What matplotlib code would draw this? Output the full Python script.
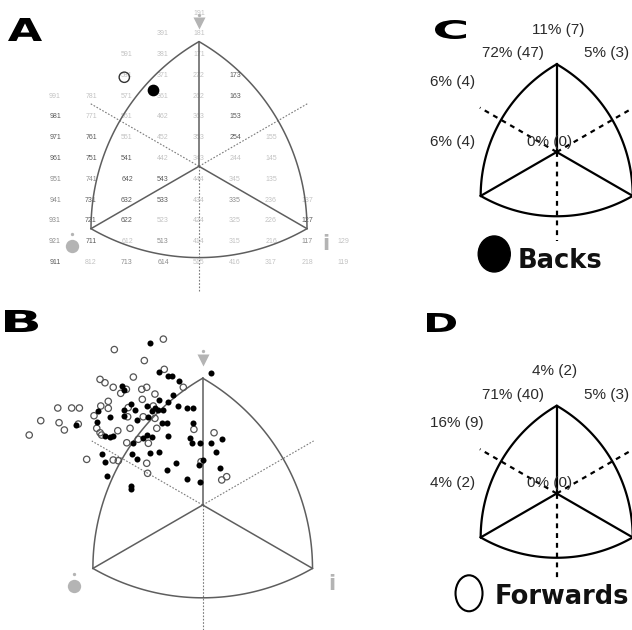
"""Somatocharts: A grid of somatotypes, B individual players, C/D sector shares."""

import numpy as np
import matplotlib

matplotlib.use("Agg")
import matplotlib.pyplot as plt  # noqa: E402
from matplotlib.patches import Ellipse, PathPatch  # noqa: E402
from matplotlib.textpath import TextPath  # noqa: E402
from matplotlib.font_manager import FontProperties  # noqa: E402
from matplotlib.transforms import Affine2D  # noqa: E402

W, H = 632, 630
R3 = np.sqrt(3)

# --- data ---------------------------------------------------------------
# somatotype labels of panel A, one list per row (endo-meso-ecto digits)
GRID_ROWS = [
    ["191"],
    ["391", "181"],
    ["591", "381", "171"],
    ["581", "371", "272", "173"],
    ["991", "781", "571", "361", "262", "163"],
    ["981", "771", "561", "462", "363", "153"],
    ["971", "761", "551", "452", "353", "254", "155"],
    ["961", "751", "541", "442", "343", "244", "145"],
    ["951", "741", "642", "543", "444", "345", "135"],
    ["941", "731", "632", "533", "434", "335", "236", "137"],
    ["931", "721", "622", "523", "424", "325", "226", "127"],
    ["921", "711", "612", "513", "414", "315", "216", "117", "129"],
    ["911", "812", "713", "614", "515", "416", "317", "218", "119"],
]
# d = dark, m = mid, l = light grey
GRID_SHADE = ["l", "ll", "lll", "llld", "llllld", "dlllld", "ddllldl",
              "dddllll", "mmddlll", "mdddlmll", "mddlllld", "mdlmlllml",
              "dlmmlllll"]

# mean somatochart position (X = ecto - endo, Y = 2 meso - endo - ecto)
BACKS_MEAN = (-2.57, 7.34)
FWDS_MEAN = (-4.15, 8.57)

BACKS_X = [-2.88, 0.44, -2.37, -1.88, -1.69, -1.28, -4.43, -4.28, -1.61, -2.37,
           -1.91, -1.33, -0.87, -0.51, -3.92, -3.70, -3.06, -2.61, -2.43, -2.79,
           -2.15, -5.74, -4.30, -5.76, -5.07, -6.94, -5.34, -5.07, -4.89, -3.61,
           -2.97, -2.24, -1.97, -3.06, -2.79, -1.88, -3.25, -0.51, -0.69, -0.60,
           -0.15, -3.88, -3.61, -2.88, -2.39, -1.48, -1.97, 0.03, -0.20, 1.04,
           0.44, 0.71, 0.95, -0.87, -0.15, -5.52, -5.34, -5.21, -3.93, -3.92,
           -4.30, -3.79]
BACKS_Y = [15.37, 12.52, 12.63, 12.20, 12.20, 11.76, 11.29, 10.88, 10.45, 9.98,
           9.77, 9.37, 9.18, 9.18, 9.56, 8.99, 9.37, 9.15, 8.99, 8.92,
           8.99, 8.92, 8.99, 7.88, 8.30, 7.57, 6.53, 6.46, 6.53, 8.04,
           8.30, 7.73, 7.73, 6.62, 6.46, 6.53, 6.31, 7.79, 6.31, 5.84,
           5.84, 4.82, 4.32, 4.95, 5.01, 3.95, 3.31, 4.26, 3.78, 6.22,
           5.84, 5.04, 3.53, 2.46, 2.20, 4.82, 4.10, 2.77, 1.84, 1.56,
           8.42, 5.84]

FWDS_X = [-2.15, -4.83, -3.19, -2.10, -3.79, -5.61, -5.34, -4.89, -4.48, -4.17,
          -3.33, -3.06, -1.06, -2.61, -3.30, -5.16, -7.92, -7.16, -6.74, -5.57,
          -5.16, -8.85, -7.85, -7.56, -6.80, -9.48, -5.94, -5.79, -5.61, -5.52,
          -4.64, -4.15, -6.34, -4.89, -4.61, -4.10, -3.25, -2.61, -3.97, -2.51,
          -3.52, -2.97, -0.48, -3.06, -3.01, 0.62, 1.04, 1.31, -0.09, -4.07,
          -2.70]
FWDS_Y = [15.70, 14.71, 13.67, 12.84, 12.11, 11.89, 11.57, 11.14, 10.57, 10.95,
          10.95, 11.14, 11.14, 10.50, 10.00, 9.81, 9.18, 9.18, 9.18, 9.37,
          9.15, 7.98, 7.79, 7.10, 7.66, 6.62, 8.45, 7.26, 6.84, 6.62,
          7.03, 5.89, 4.32, 4.26, 4.19, 8.35, 8.35, 8.20, 7.26, 7.26,
          6.22, 5.84, 7.16, 3.95, 3.00, 6.84, 2.37, 2.68, 4.10, 9.22,
          9.37]

# sector shares (top, upper-left, upper-right, left-upper, left-lower, central)
BACKS_PCT = [11, 72, 5, 6, 6, 0]
BACKS_N = [7, 47, 3, 4, 4, 0]
FWDS_PCT = [4, 71, 5, 16, 4, 0]
FWDS_N = [2, 40, 3, 9, 2, 0]

# --- style --------------------------------------------------------------
GREY_ICON = "#b4b4b4"
SHADES = {"d": "#5a5a5a", "m": "#8c8c8c", "l": "#c2c2c2"}
HELV = ["Liberation Sans", "DejaVu Sans"]

fig = plt.figure(figsize=(W / 100, H / 100), dpi=100)

# full-figure overlay for the panel letters (pixel coords, y down)
ax0 = fig.add_axes([0, 0, 1, 1])
ax0.set_xlim(0, W)
ax0.set_ylim(H, 0)
ax0.axis("off")

_fp = FontProperties(family="DejaVu Sans", weight="bold")


def big_letter(ch, x0, x1, y0, y1):
    tp = TextPath((0, 0), ch, size=1, prop=_fp)
    ext = tp.get_extents()
    tr = (Affine2D().translate(-ext.x0, -ext.y0)
          .scale((x1 - x0) / ext.width, -(y1 - y0) / ext.height)
          .translate(x0, y1))
    ax0.add_patch(PathPatch(tr.transform_path(tp), fc="black", ec="none"))


big_letter("A", 8, 42, 18, 41)
big_letter("B", 5, 38, 310, 332)
big_letter("C", 435, 466, 20, 39)
big_letter("D", 427, 456, 313, 332)


def panel(cx, cy, s, xlim, ylim):
    """Axes in somatochart units; (cx, cy) is the chart centre in px, s px per X unit."""
    sy = s / R3
    left = cx + xlim[0] * s
    right = cx + xlim[1] * s
    top = cy - ylim[1] * sy
    bottom = cy - ylim[0] * sy
    ax = fig.add_axes([left / W, 1 - bottom / H, (right - left) / W, (bottom - top) / H])
    ax.set_xlim(xlim)
    ax.set_ylim(ylim)
    ax.axis("off")
    ax.patch.set_visible(False)
    return ax


def outline(ax, color, lw, dcolor, dlw, dls):
    # Reuleaux outline: each arc centred on the opposite vertex (equal-scale coords)
    verts = {"L": (-6, -6 / R3), "T": (0, 12 / R3), "R": (6, -6 / R3)}
    arcs = [("R", 120, 180), ("L", 60, 0), ("T", 240, 300)]
    for c, a0, a1 in arcs:
        t = np.radians(np.linspace(a0, a1, 80))
        x0, y0 = verts[c]
        ax.plot(x0 + 12 * np.cos(t), (y0 + 12 * np.sin(t)) * R3,
                color=color, lw=lw, solid_capstyle="round", zorder=2)
    for vx, vy in verts.values():
        ax.plot([0, vx], [0, vy * R3], color=color, lw=lw, zorder=2)
    for ang in (150, 30, 270):
        a = np.radians(ang)
        ax.plot([0, 7 * np.cos(a)], [0, 7 * np.sin(a) * R3], color=dcolor,
                lw=dlw, ls=dls, zorder=1)


def icons(ax):
    ax.plot(0, 13.75, marker="v", ms=9, color=GREY_ICON, mec="none", zorder=3)
    ax.plot(0, 14.6, marker="o", ms=2.4, color=GREY_ICON, mec="none", zorder=3)
    ax.plot(-7.03, -7.63, marker="o", ms=9.6, color=GREY_ICON, mec="none", zorder=3)
    ax.plot(-7.03, -6.55, marker="o", ms=2.4, color=GREY_ICON, mec="none", zorder=3)
    ax.text(7.05, -7.45, "i", fontsize=15, fontweight="bold", color=GREY_ICON,
            family="DejaVu Sans", ha="center", va="center", zorder=3)


# --- A ------------------------------------------------------------------
axA = panel(199, 166.3, 18.0, (-10, 10), (-13, 17))
outline(axA, "#5e5e5e", 1.1, "#7a7a7a", 0.8, (0, (1.5, 1.5)))
icons(axA)
for row, shades in zip(GRID_ROWS, GRID_SHADE):
    for lab, sh in zip(row, shades):
        endo, meso, ecto = (int(c) for c in lab)
        gx = ecto - endo
        gy = 2 * meso - endo - ecto
        axA.text(gx, gy - 1.25, lab, fontsize=5, family=HELV, color=SHADES[sh],
                 ha="center", va="center", zorder=1)
axA.scatter(*FWDS_MEAN, s=55, facecolors="none", edgecolors="#333333", lw=1.0, zorder=4)
axA.scatter(*BACKS_MEAN, s=55, color="black", zorder=4)

# --- B ------------------------------------------------------------------
axB = panel(202.7, 505, 18.3, (-10, 10), (-13, 17))
outline(axB, "#5e5e5e", 1.1, "#7a7a7a", 0.8, (0, (1.5, 1.5)))
icons(axB)
axB.scatter(FWDS_X, FWDS_Y, s=21, facecolors="none", edgecolors="#555555", lw=0.9, zorder=4)
axB.scatter(BACKS_X, BACKS_Y, s=19, color="black", lw=0, zorder=5)

# --- C / D --------------------------------------------------------------
PCT_POS = [(-1.95, 16.7, "left"), (-1.0, 13.5, "right"), (2.17, 13.5, "left"),
           (-10.0, 9.6, "left"), (-10.0, 1.4, "left"), (-0.53, 1.4, "center")]


def shares(ax, pct, n):
    for (x, y, ha), p, k in zip(PCT_POS, pct, n):
        ax.text(x, y, f"{p}% ({k})", fontsize=11, family=HELV, color="#2a2a2a",
                ha=ha, va="center", zorder=3)


axC = panel(556.7, 152, 12.67, (-11, 11), (-17, 19))
outline(axC, "black", 1.6, "black", 1.6, (0, (2.2, 2.2)))
shares(axC, BACKS_PCT, BACKS_N)
axC.add_patch(Ellipse((-4.93, -13.94), 2.53, 4.92, fc="black", ec="black"))
axC.text(-3.05, -15.86, "Backs", fontsize=18.5, fontweight="bold",
         family="DejaVu Sans", ha="left", va="baseline", color="#111111")

axD = panel(556.7, 493.5, 12.67, (-11, 11), (-17, 19))
outline(axD, "black", 1.6, "black", 1.6, (0, (2.2, 2.2)))
shares(axD, FWDS_PCT, FWDS_N)
axD.add_patch(Ellipse((-6.92, -13.64), 2.13, 4.92, fc="white", ec="black", lw=1.5))
axD.text(-4.87, -15.1, "Forwards", fontsize=18.5, fontweight="bold",
         family="DejaVu Sans", ha="left", va="baseline", color="#111111")

fig.savefig("out.png", dpi=100)
